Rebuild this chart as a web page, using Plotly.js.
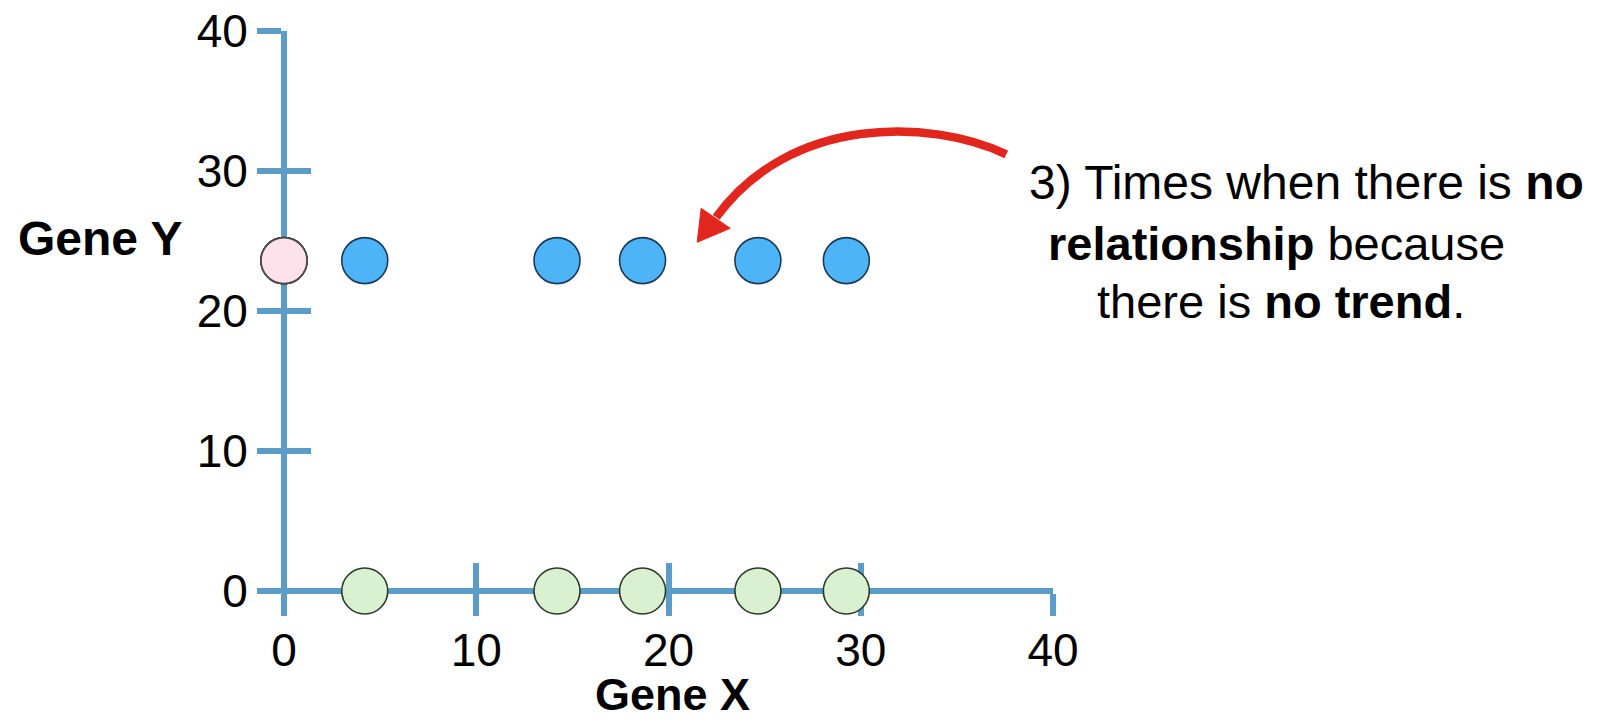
<!DOCTYPE html>
<html>
<head>
<meta charset="utf-8">
<script src="https://cdn.plot.ly/plotly-3.0.1.min.js"></script>
<style>html,body{margin:0;padding:0;background:#fff;}#chart{width:1600px;height:722px;}</style>
</head>
<body>
<div id="chart"></div>
<script>
// ---- data ----
const geneX = [4.2, 14.2, 18.65, 24.65, 29.25];
const geneY = [23.6, 23.6, 23.6, 23.6, 23.6];
const xTicks = [0, 10, 20, 30, 40];
const yTicks = [0, 10, 20, 30, 40];
const xTickLabels = ['0', '10', '20', '30', '40'];
const yTickLabels = ['0', '10', '20', '30', '40'];
const xTitle = 'Gene X';
const yTitle = 'Gene Y';
const noteLines = ['3) Times when there is <b>no</b>', '<b>relationship</b> because', 'there is <b>no trend</b>.'];

// ---- layout geometry ----
const W = 1600, H = 722;
const M = {l: 282, r: 547.3, t: 30.7, b: 129.3};
const PW = W - M.l - M.r, PH = H - M.t - M.b;
const xRange = [-2 / 19.217, 40];
const yRange = [-2 / 14.0, 40];
const px = v => (v - M.l) / PW;
const py = v => (H - M.b - v) / PH;

const AX = '#5b9cc9';
const FONT = 'Liberation Sans, Arial, Helvetica, sans-serif';
const zeros = geneX.map(() => 0);

const traces = [
  {x: geneX, y: geneY, type: 'scatter', mode: 'markers', cliponaxis: false, hoverinfo: 'skip',
   marker: {size: 46, color: '#4db4f8', line: {color: '#1d3a56', width: 1.6}}},
  {x: zeros, y: geneY, type: 'scatter', mode: 'markers', cliponaxis: false, hoverinfo: 'skip',
   marker: {size: 46, color: '#fde2ec', line: {color: '#4a4a4a', width: 1.6}}},
  {x: geneX, y: zeros, type: 'scatter', mode: 'markers', cliponaxis: false, hoverinfo: 'skip',
   marker: {size: 46, color: '#d9f1d1', line: {color: '#2b3a2b', width: 1.6}}},
  // transparent carriers so the overlaid (inner-tick) axes get drawn
  {x: geneX, y: geneY, xaxis: 'x2', yaxis: 'y', type: 'scatter', mode: 'markers', hoverinfo: 'skip',
   marker: {size: 1, opacity: 0}},
  {x: geneX, y: geneY, xaxis: 'x', yaxis: 'y2', type: 'scatter', mode: 'markers', hoverinfo: 'skip',
   marker: {size: 1, opacity: 0}}
];

const tickFont = {family: FONT, size: 46, color: '#000'};

const layout = {
  width: W, height: H, autosize: false,
  margin: {l: M.l, r: M.r, t: M.t, b: M.b, pad: 0},
  paper_bgcolor: '#fff', plot_bgcolor: 'rgba(0,0,0,0)',
  showlegend: false,
  xaxis: {range: xRange, fixedrange: true, showgrid: false, showline: false,
          zeroline: true, zerolinewidth: 6, zerolinecolor: AX,
          tickmode: 'array', tickvals: xTicks, ticktext: xTickLabels,
          ticks: 'outside', ticklen: 22, tickwidth: 6, tickcolor: AX,
          ticklabelstandoff: -5,
          tickfont: tickFont, layer: 'below traces'},
  yaxis: {range: yRange, fixedrange: true, showgrid: false, showline: false,
          zeroline: true, zerolinewidth: 6, zerolinecolor: AX,
          tickmode: 'array', tickvals: yTicks, ticktext: yTickLabels,
          ticks: 'outside', ticklen: 24, tickwidth: 6, tickcolor: AX,
          tickfont: tickFont, layer: 'below traces'},
  xaxis2: {overlaying: 'x', anchor: 'y', side: 'bottom', range: xRange, fixedrange: true,
           showgrid: false, showline: false, zeroline: false, showticklabels: false,
           tickmode: 'array', tickvals: xTicks,
           ticks: 'inside', ticklen: 30, tickwidth: 6, tickcolor: AX, layer: 'below traces'},
  yaxis2: {overlaying: 'y', anchor: 'x', side: 'left', range: yRange, fixedrange: true,
           showgrid: false, showline: false, zeroline: false, showticklabels: false,
           tickmode: 'array', tickvals: yTicks,
           ticks: 'inside', ticklen: 29, tickwidth: 6, tickcolor: AX, layer: 'below traces'},
  annotations: [
    {xref: 'paper', yref: 'paper', x: px(101), y: py(238), xanchor: 'center', yanchor: 'middle',
     text: '<b>' + yTitle + '</b>', showarrow: false, font: {family: FONT, size: 48, color: '#000'}},
    {xref: 'paper', yref: 'paper', x: px(672), y: py(694), xanchor: 'center', yanchor: 'middle',
     text: '<b>' + xTitle + '</b>', showarrow: false, font: {family: FONT, size: 45, color: '#000'}},
    {xref: 'paper', yref: 'paper', x: px(1306), y: py(182), xanchor: 'center', yanchor: 'middle',
     text: noteLines[0], showarrow: false, font: {family: FONT, size: 48, color: '#000'}},
    {xref: 'paper', yref: 'paper', x: px(1276), y: py(243), xanchor: 'center', yanchor: 'middle',
     text: noteLines[1], showarrow: false, font: {family: FONT, size: 47, color: '#000'}},
    {xref: 'paper', yref: 'paper', x: px(1281), y: py(301), xanchor: 'center', yanchor: 'middle',
     text: noteLines[2], showarrow: false, font: {family: FONT, size: 47, color: '#000'}}
  ],
  shapes: [
    {type: 'path', xref: 'paper', yref: 'paper', layer: 'above',
     path: 'M' + px(1006) + ',' + py(154) + ' C' + px(930) + ',' + py(118) + ' ' + px(790) + ',' + py(115) + ' ' + px(716) + ',' + py(217),
     line: {color: '#e1271d', width: 8.5}},
    {type: 'path', xref: 'paper', yref: 'paper', layer: 'above',
     path: 'M' + px(697) + ',' + py(242) + ' L' + px(701) + ',' + py(208) + ' L' + px(730) + ',' + py(228) + ' Z',
     fillcolor: '#e1271d', line: {color: '#e1271d', width: 1}}
  ]
};

Plotly.newPlot('chart', traces, layout, {staticPlot: true, displayModeBar: false});
</script>
</body>
</html>
